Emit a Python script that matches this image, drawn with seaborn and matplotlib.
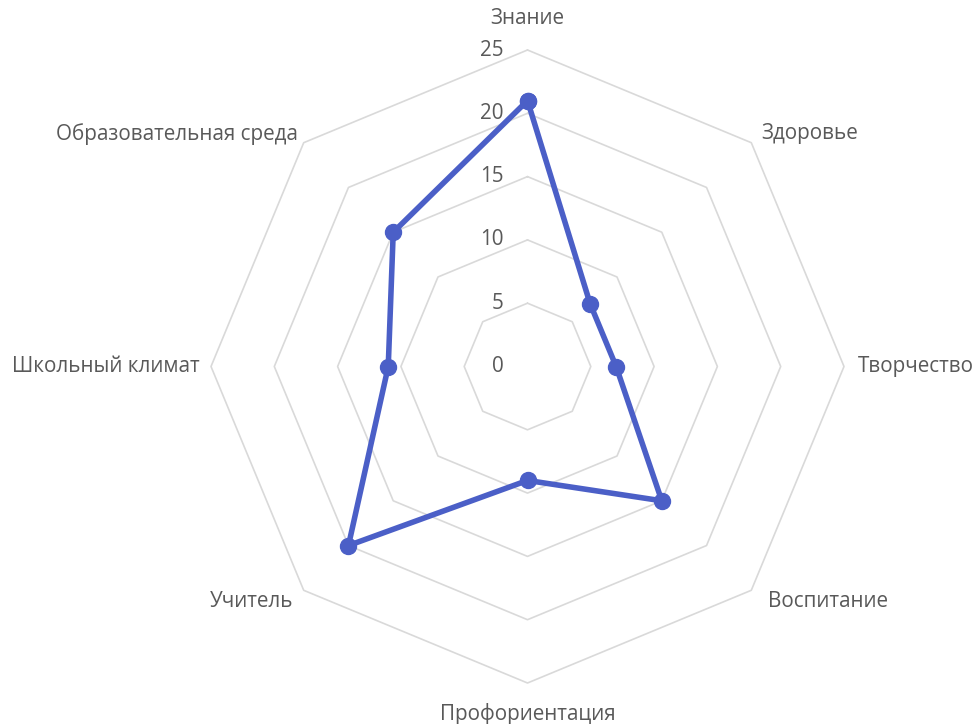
import numpy as np
import matplotlib
matplotlib.use("Agg")
import matplotlib.pyplot as plt
import seaborn as sns

categories = ["Знание", "Здоровье", "Творчество", "Воспитание",
              "Профориентация", "Учитель", "Школьный климат", "Образовательная среда"]
values = [21, 7, 7, 15, 9, 20, 11, 15]
ticks = [0, 5, 10, 15, 20, 25]

sns.set_theme(style="white")
plt.rcParams['font.family'] = ['Open Sans', 'DejaVu Sans']

W, H = 978, 724
fig = plt.figure(figsize=(W / 100, H / 100), dpi=100)
cx, cy, R = 527.5, 366.5, 316.5
ax = fig.add_axes([(cx - R) / W, (H - cy - R) / H, 2 * R / W, 2 * R / H], projection='polar')
ax.set_theta_zero_location('N')
ax.set_theta_direction(-1)
ax.set_ylim(0, 25)
ax.axis('off')

n = len(categories)
angles = np.linspace(0, 2 * np.pi, n, endpoint=False)
closed = np.append(angles, angles[0])

for t in ticks[1:]:
    ax.plot(closed, [t] * (n + 1), color='#d9d9d9', lw=1.2, zorder=1, clip_on=False)

vals = np.append(values, values[0])
ax.plot(closed, vals, color='#4B5FC7', lw=4.0, marker='o', markersize=11.5,
        zorder=3, clip_on=False, solid_joinstyle='round')

txt = '#595959'
fs = 14.9
for t in ticks:
    ax.annotate(str(t), xy=(0, t), xytext=(-24, 0), textcoords='offset pixels',
                ha='right', va='center', fontsize=fs, color=txt)

offsets = [((0, 31), 'center'), ((10, 9), 'left'), ((14, 0), 'left'), ((17, -11), 'left'),
           ((0, -31), 'center'), ((-10, -11), 'right'), ((-11, 0), 'right'), ((-6, 9), 'right')]
for a, lab, (off, ha) in zip(angles, categories, offsets):
    ax.annotate(lab, xy=(a, 25), xytext=off, textcoords='offset pixels',
                ha=ha, va='center', fontsize=fs, color=txt, annotation_clip=False)

fig.savefig('out.png', dpi=100)
